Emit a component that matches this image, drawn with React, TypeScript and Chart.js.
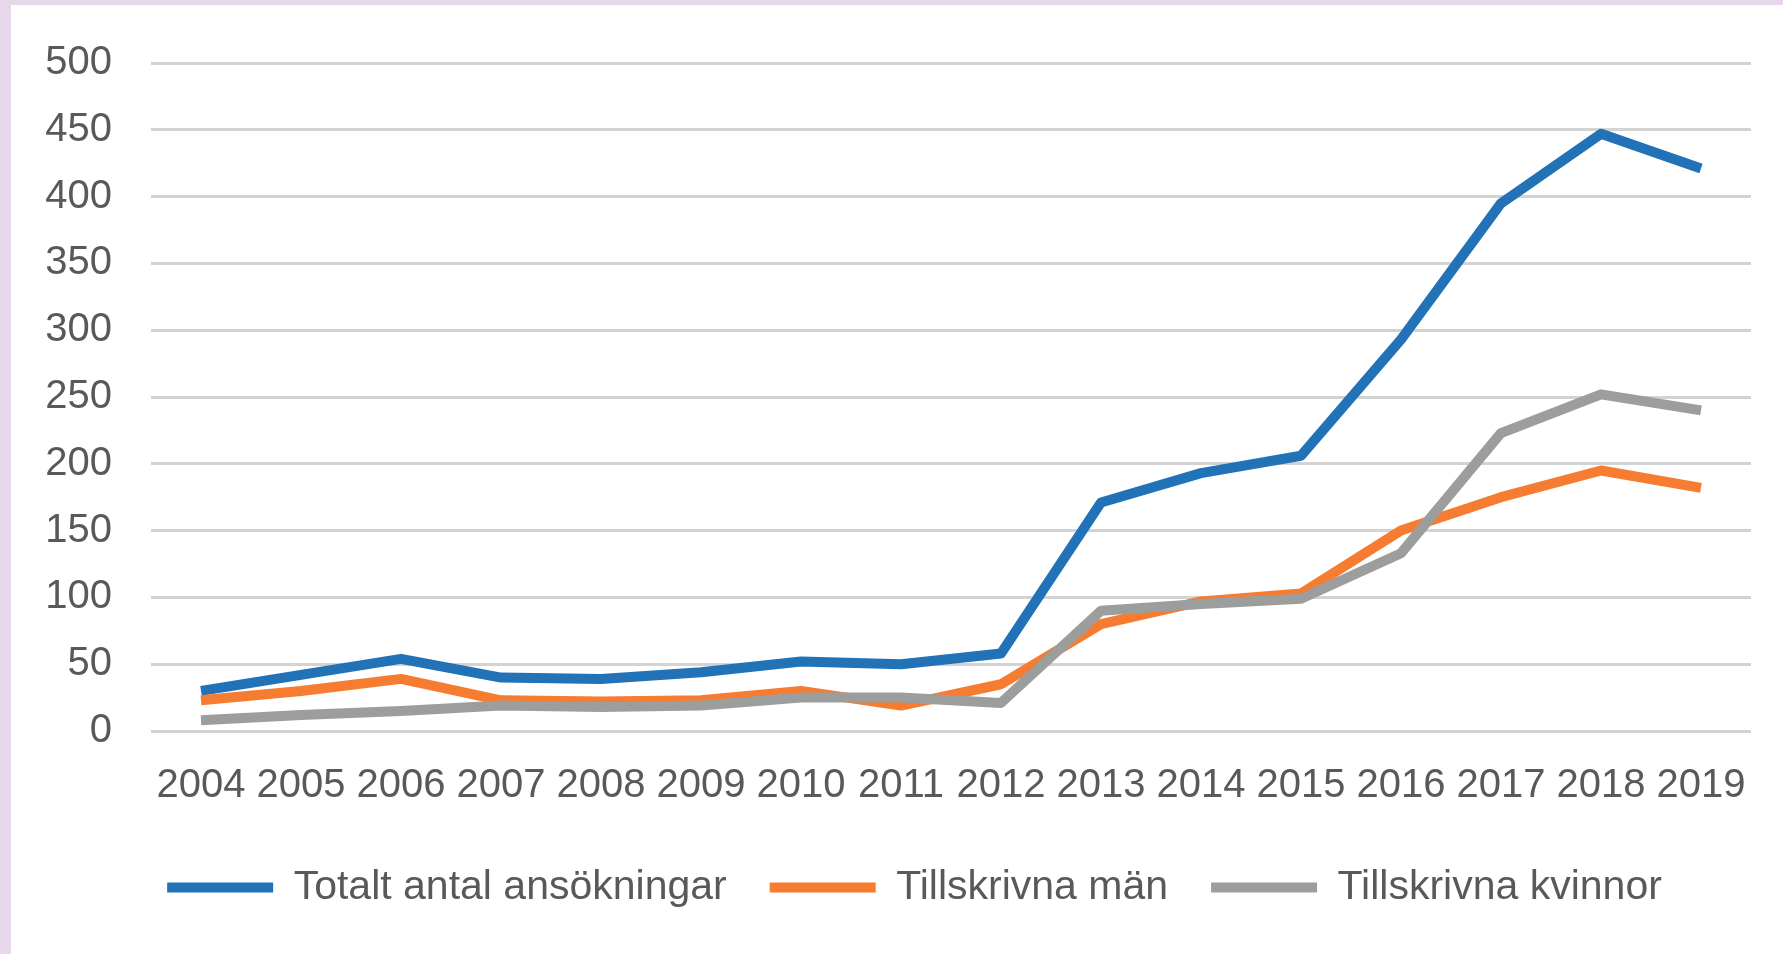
import React, { useEffect, useRef } from "react";
import { Chart, registerables } from "chart.js";

Chart.register(...registerables);

const years = ["2004","2005","2006","2007","2008","2009","2010","2011","2012","2013","2014","2015","2016","2017","2018","2019"];
const totalt = [30, 42, 54, 40, 39, 44, 52, 50, 58, 171, 193, 206, 293, 395, 447, 421];
const man = [23, 30, 39, 23, 22, 23, 30, 19, 35, 80, 97, 103, 150, 175, 195, 182];
const kvinnor = [8, 12, 15, 19, 18, 19, 25, 25, 21, 90, 95, 99, 133, 223, 252, 240];
const seriesNames = ["Totalt antal ansökningar", "Tillskrivna män", "Tillskrivna kvinnor"];
const seriesColors = ["#2272b8", "#f57c30", "#9c9e9e"];

const FONT = "'Liberation Sans', Arial, sans-serif";
const TEXT = "#595959";
const LEGEND_DX = 23.5;

const legendShift = {
  id: "legendShift",
  afterLayout(chart: any) {
    const lg = chart.legend;
    if (lg) {
      lg.left += LEGEND_DX;
      lg.right += LEGEND_DX;
    }
  },
};

export default function App() {
  const ref = useRef<HTMLCanvasElement | null>(null);

  useEffect(() => {
    if (!ref.current) return;
    const values = [totalt, man, kvinnor];
    const chart = new Chart(ref.current, {
      type: "line",
      data: {
        labels: years,
        datasets: values.map((v, i) => ({
          label: seriesNames[i],
          data: v,
          borderColor: seriesColors[i],
          backgroundColor: seriesColors[i],
          borderWidth: 10,
          pointRadius: 0,
          pointHoverRadius: 0,
          tension: 0,
          fill: false,
          borderJoinStyle: "round" as const,
          borderCapStyle: "butt" as const,
          order: 3 - i,
        })),
      },
      plugins: [legendShift],
      options: {
        animation: false,
        responsive: false,
        maintainAspectRatio: false,
        layout: { padding: { left: 20, right: 32, top: 58, bottom: 36 } },
        plugins: {
          tooltip: { enabled: false },
          legend: {
            position: "bottom",
            labels: {
              boxWidth: 106,
              boxHeight: 10,
              padding: 43,
              color: TEXT,
              font: { family: FONT, size: 41 },
              sort: (a: any, b: any) => a.datasetIndex - b.datasetIndex,
              generateLabels: (chart: any) =>
                Chart.defaults.plugins.legend.labels
                  .generateLabels(chart)
                  .map((l: any) => ({ ...l, lineWidth: 0 })),
            },
          },
        },
        scales: {
          x: {
            offset: true,
            grid: { display: false, drawTicks: false },
            border: { display: false },
            ticks: {
              color: TEXT,
              font: { family: FONT, size: 40 },
              padding: 31,
              maxRotation: 0,
              autoSkip: false,
            },
            afterFit: (scale: any) => {
              scale.height = 93;
            },
          },
          y: {
            min: 0,
            max: 500,
            grid: { color: "#d3d3d3", lineWidth: 3, drawTicks: false },
            border: { display: false },
            ticks: {
              stepSize: 50,
              color: TEXT,
              font: { family: FONT, size: 40, lineHeight: 0.8 },
              padding: 39,
            },
            afterFit: (scale: any) => {
              scale.width = 120;
            },
          },
        },
      },
    });
    return () => chart.destroy();
  }, []);

  return (
    <div
      style={{
        position: "fixed",
        left: 0,
        top: 0,
        width: 1783,
        height: 954,
        background: "#e6d8ea",
      }}
    >
      <div
        style={{
          position: "absolute",
          left: 11,
          top: 5,
          width: 1772,
          height: 949,
          background: "#ffffff",
        }}
      >
        <canvas ref={ref} width={1772} height={949} style={{ display: "block" }} />
      </div>
    </div>
  );
}
